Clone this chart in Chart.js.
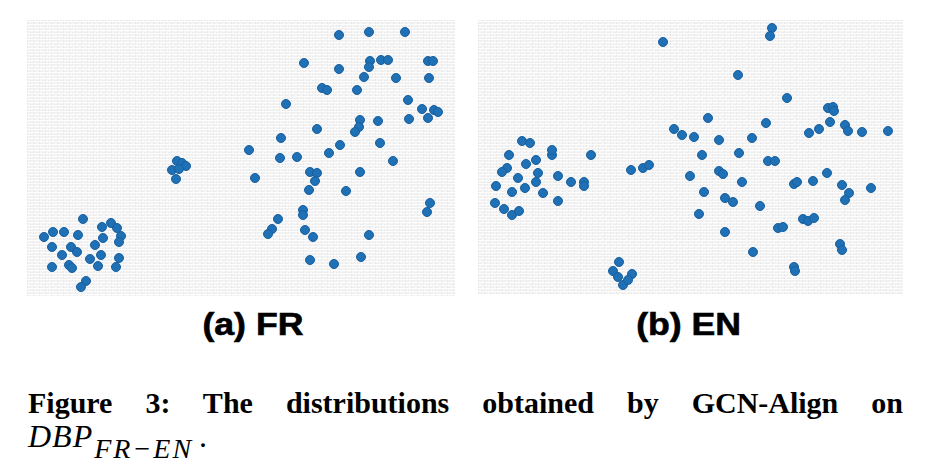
<!DOCTYPE html>
<html>
<head>
<meta charset="utf-8">
<script src="https://cdn.jsdelivr.net/npm/chart.js@4/dist/chart.umd.min.js"></script>
<style>
  html, body { margin:0; padding:0; background:#fff; width:934px; height:469px; overflow:hidden; }
  .panel { position:absolute; }
  .lbl { position:absolute; font-family:"Liberation Sans", Arial, sans-serif; font-weight:bold; font-size:31px; line-height:31px; color:#000; white-space:nowrap; transform-origin:center; -webkit-text-stroke:0.6px #000; }
  .cap1 { position:absolute; left:28px; top:388px; width:875px; font-family:"Liberation Serif", "Times New Roman", serif; font-weight:bold; font-size:30px; line-height:30px; text-align:justify; text-align-last:justify; color:#000; white-space:nowrap; }
  .cap2 { position:absolute; left:28px; top:421px; font-family:"Liberation Serif", "Times New Roman", serif; font-size:32px; line-height:30px; color:#000; white-space:nowrap; }
  .cap2 i { font-style:italic; letter-spacing:1px; }
  .sub { position:relative; top:11px; font-size:28px; font-style:italic; letter-spacing:2px; margin-left:1px; }
</style>
</head>
<body>
<div class="panel" style="left:27px; top:20px; width:428px; height:276px;"><canvas id="cA" width="428" height="276"></canvas></div>
<div class="panel" style="left:478px; top:20px; width:425px; height:275px;"><canvas id="cB" width="425" height="275"></canvas></div>
<div class="lbl" id="lA" style="top:309px;">(a) FR</div>
<div class="lbl" id="lB" style="top:309px;">(b) EN</div>
<div class="cap1">Figure 3: The distributions obtained by GCN-Align on</div>
<div class="cap2"><i>DBP</i><span class="sub">FR−EN</span><span style="margin-left:6px;">.</span></div>
<script>
// Panel titles
const panelTitles = ["(a) FR", "(b) EN"];

// Panel (a) FR embedding coordinates
const frX = [312,342,378,277,312,343,342,354,361,401,406,337,369,402,295,300,330,259,381,395,407,411,401,382,333,351,332,328,290,254,313,353,222,302,253,270,366,228,283,290,288,282,333,319,403,400,276,276,251,245,241,278,286,342,283,307,334,
             150,155,159,145,152,149,
             56,17,26,37,51,75,84,90,94,76,92,25,44,50,68,35,74,63,92,42,45,71,89,25,59,54];
const frY = [261,264,264,233,227,235,229,236,236,235,235,219,218,218,208,206,206,192,196,187,186,184,178,177,176,175,169,164,167,158,151,153,146,143,138,139,135,118,124,123,115,106,124,105,93,84,86,81,77,67,62,66,59,61,36,32,39,
             135,133,130,126,127,117,
             77,59,64,64,61,69,73,68,60,58,54,49,49,44,51,41,41,37,38,31,28,30,29,29,15,9];

// Panel (b) EN embedding coordinates
const enX = [185,294,292,260,309,350,355,356,230,352,288,367,370,384,410,341,331,204,216,241,274,224,261,290,297,196,
             212,241,245,264,226,247,255,282,221,316,319,335,349,364,371,367,393,325,330,336,300,305,247,275,362,364,316,317,
             31,44,52,74,113,58,48,29,24,40,60,58,47,18,34,65,80,93,106,106,80,17,26,34,41,74,
             153,165,171,
             141,135,140,145,154,150];
const enY = [253,267,259,220,197,187,188,184,177,173,172,170,164,163,164,166,162,160,158,155,157,140,142,134,134,166,
             119,124,121,113,103,97,93,89,81,111,113,114,122,110,102,95,107,76,74,77,67,68,63,43,51,45,28,24,
             140,154,152,140,140,135,131,127,123,117,122,113,107,109,103,102,119,113,113,109,94,92,86,80,84,145,
             125,127,130,
             33,24,18,10,21,15];

// texture pattern for panel backgrounds
function makePattern(ctx) {
  const t = document.createElement('canvas');
  t.width = 6; t.height = 6;
  const c = t.getContext('2d');
  c.fillStyle = '#f5f5f5'; c.fillRect(0,0,6,6);
  c.fillStyle = '#e9e9e9';
  c.fillRect(0,0,1,6); c.fillRect(3,0,1,3);
  c.fillStyle = '#fdfdfd';
  c.fillRect(0,1,6,1); c.fillRect(0,4,6,1);
  c.fillStyle = '#eeeeee';
  c.fillRect(1,3,2,1); c.fillRect(4,0,2,1);
  return ctx.createPattern(t, 'repeat');
}
const texturePlugin = {
  id: 'texture',
  beforeDraw(chart) {
    const ctx = chart.ctx;
    ctx.save();
    ctx.fillStyle = makePattern(ctx);
    ctx.fillRect(0, 0, chart.width, chart.height);
    ctx.restore();
  }
};

function build(id, xs, ys, w, h) {
  const pts = xs.map((x, i) => ({ x: x, y: ys[i] }));
  return new Chart(document.getElementById(id), {
    type: 'scatter',
    data: { datasets: [{ data: pts, backgroundColor: '#1f70b5', borderColor: '#185f9e', borderWidth: 1, pointRadius: 4.5, pointHoverRadius: 4.5 }] },
    options: {
      responsive: false, maintainAspectRatio: false, animation: false, devicePixelRatio: 1,
      layout: { padding: 0, autoPadding: false },
      plugins: { legend: { display: false }, tooltip: { enabled: false }, title: { display: false } },
      scales: {
        x: { type: 'linear', min: 0, max: w, display: false },
        y: { type: 'linear', min: 0, max: h, display: false }
      },
      clip: false
    },
    plugins: [texturePlugin]
  });
}
build('cA', frX, frY, 428, 276);
build('cB', enX, enY, 425, 275);

// place panel titles centred under panels
const lA = document.getElementById('lA'), lB = document.getElementById('lB');
lA.textContent = panelTitles[0]; lB.textContent = panelTitles[1];
function centre(el, cx) {
  const w = el.offsetWidth;
  el.style.left = (cx - w / 2) + 'px';
  el.style.transform = 'scaleX(1.15)';
}
centre(lA, 252.5);
centre(lB, 688.5);
</script>
</body>
</html>
